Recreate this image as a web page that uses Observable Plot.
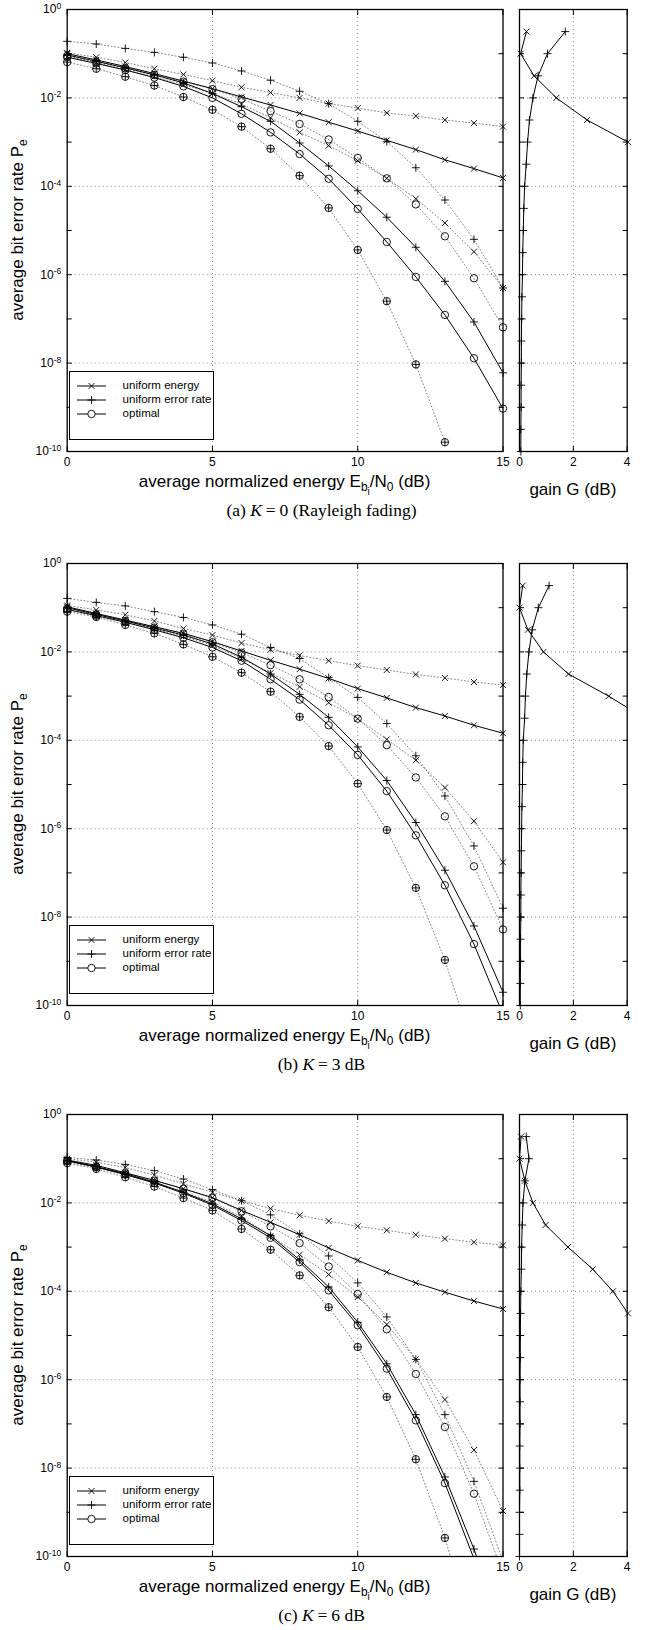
<!DOCTYPE html>
<html><head><meta charset="utf-8">
<script src="https://cdn.jsdelivr.net/npm/d3@7"></script>
<script src="https://cdn.jsdelivr.net/npm/@observablehq/plot@0.6"></script>
<style>
body{margin:0;background:#fff;}
#fig{position:relative;width:648px;height:1630px;font-family:"Liberation Sans",Arial,Helvetica,sans-serif;color:#000;overflow:hidden;}
.title{position:absolute;font-size:17px;line-height:19px;white-space:nowrap;}
.title sub{font-size:12px;vertical-align:-4px;line-height:0;}
.title sub sub{font-size:10px;vertical-align:-4px;}
.ylab{position:absolute;font-size:17px;line-height:19px;white-space:nowrap;transform:translate(-50%,-50%) rotate(-90deg);}
.ylab sub{font-size:12px;vertical-align:-4px;line-height:0;}
.cap{position:absolute;font-family:"Liberation Serif","Times New Roman",serif;font-size:17.5px;line-height:22px;white-space:nowrap;transform:translateX(-50%);}
.cap .eq{padding:0 0.22em;}
.legend{position:absolute;border:1.2px solid #000;background:#fff;box-sizing:border-box;font-size:11.5px;}
.legend .row{position:absolute;left:0;height:14px;line-height:14px;white-space:nowrap;}
</style></head><body><div id="fig"></div>
<script>
// ---------- data (log10 of average bit error rate) ----------
const snrDb = [0,1,2,3,4,5,6,7,8,9,10,11,12,13,14,15];

// panel (a) K = 0
const aUE     = [-1.0,-1.14,-1.29,-1.45,-1.62,-1.79,-1.98,-2.16,-2.35,-2.55,-2.75,-2.96,-3.17,-3.4,-3.6,-3.81];
const aUER    = [-1.03,-1.17,-1.32,-1.48,-1.66,-1.9,-2.2,-2.53,-3.02,-3.54,-4.1,-4.7,-5.38,-6.15,-7.07,-8.22];
const aOPT    = [-1.08,-1.22,-1.37,-1.54,-1.74,-2.0,-2.36,-2.78,-3.27,-3.83,-4.51,-5.26,-6.05,-6.91,-7.89,-9.03];
const aUERhi  = [-0.72,-0.78,-0.88,-0.97,-1.08,-1.21,-1.39,-1.6,-1.85,-2.13,-2.53,-2.99,-3.58,-4.31,-5.2,-6.3];
const aUEhi   = [-0.98,-1.08,-1.2,-1.34,-1.47,-1.61,-1.76,-1.88,-2.0,-2.13,-2.23,-2.34,-2.41,-2.5,-2.57,-2.65];
const aOPThi  = [-1.05,-1.18,-1.33,-1.48,-1.63,-1.8,-2.02,-2.3,-2.59,-2.94,-3.36,-3.82,-4.41,-5.13,-6.08,-7.19];
const aUElo   = [-1.07,-1.2,-1.36,-1.52,-1.7,-1.9,-2.14,-2.45,-2.78,-3.08,-3.42,-3.82,-4.28,-4.83,-5.48,-6.3];
const aLo     = [-1.19,-1.34,-1.52,-1.72,-1.98,-2.27,-2.65,-3.15,-3.76,-4.49,-5.44,-6.6,-8.03,-9.79];

// panel (b) K = 3 dB
const bUE     = [-0.98,-1.13,-1.28,-1.43,-1.58,-1.77,-1.98,-2.19,-2.39,-2.6,-2.83,-3.04,-3.26,-3.45,-3.66,-3.84];
const bUER    = [-1.0,-1.15,-1.3,-1.46,-1.62,-1.82,-2.12,-2.5,-2.96,-3.48,-4.15,-4.91,-5.86,-6.94,-8.2,-9.7];
const bOPT    = [-1.04,-1.18,-1.33,-1.5,-1.68,-1.9,-2.2,-2.62,-3.08,-3.66,-4.33,-5.15,-6.15,-7.28,-8.61,-10.2];
const bUERhi  = [-0.79,-0.88,-0.96,-1.09,-1.22,-1.39,-1.6,-1.9,-2.15,-2.58,-3.03,-3.62,-4.35,-5.26,-6.39,-7.8];
const bUEhi   = [-0.95,-1.05,-1.16,-1.3,-1.47,-1.62,-1.8,-1.95,-2.08,-2.2,-2.31,-2.41,-2.51,-2.59,-2.68,-2.75];
const bOPThi  = [-1.02,-1.15,-1.3,-1.45,-1.6,-1.78,-2.02,-2.3,-2.62,-3.02,-3.51,-4.11,-4.84,-5.72,-6.85,-8.28];
const bUElo   = [-1.05,-1.18,-1.33,-1.48,-1.65,-1.85,-2.15,-2.48,-2.79,-3.15,-3.51,-3.98,-4.45,-5.07,-5.83,-6.76];
const bLo     = [-1.09,-1.21,-1.39,-1.58,-1.83,-2.11,-2.47,-2.9,-3.47,-4.13,-4.98,-6.03,-7.34,-8.97,-11.0];

// panel (c) K = 6 dB
const cUE     = [-1.03,-1.15,-1.32,-1.49,-1.68,-1.88,-2.17,-2.44,-2.72,-3.02,-3.3,-3.57,-3.81,-4.02,-4.22,-4.4];
const cUER    = [-1.04,-1.18,-1.34,-1.53,-1.76,-2.02,-2.36,-2.74,-3.29,-3.9,-4.7,-5.64,-6.79,-8.2,-9.83,-11.7];
const cOPT    = [-1.05,-1.19,-1.36,-1.55,-1.78,-2.05,-2.4,-2.79,-3.34,-3.98,-4.77,-5.75,-6.92,-8.34,-10.05,-12.0];
const cUERhi  = [-0.97,-1.03,-1.13,-1.27,-1.46,-1.7,-1.95,-2.27,-2.7,-3.2,-3.81,-4.58,-5.54,-6.79,-8.3,-10.1];
const cUEhi   = [-1.0,-1.08,-1.2,-1.37,-1.57,-1.76,-1.95,-2.13,-2.28,-2.41,-2.53,-2.62,-2.72,-2.81,-2.89,-2.96];
const cOPThi  = [-1.05,-1.18,-1.33,-1.5,-1.68,-1.89,-2.19,-2.53,-2.91,-3.44,-4.06,-4.86,-5.87,-7.07,-8.58,-10.4];
const cUElo   = [-1.07,-1.2,-1.36,-1.55,-1.75,-1.98,-2.32,-2.75,-3.17,-3.62,-4.13,-4.75,-5.54,-6.45,-7.59,-8.97];
const cLo     = [-1.1,-1.23,-1.42,-1.63,-1.89,-2.17,-2.59,-3.06,-3.64,-4.36,-5.26,-6.39,-7.8,-9.58,-11.8];

// gain panels: log10 Pe levels and gain G (dB)
const gainLevels = [-0.5,-1,-1.5,-2,-2.5,-3,-3.5,-4,-4.5,-5,-5.5,-6,-6.5,-7,-7.5,-8,-8.5,-9,-9.5,-10];
const aGainUE  = [0.26,0.04,0.54,1.37,2.51,4.03];
const aGainUER = [1.7,1.04,0.69,0.5,0.37,0.3,0.25,0.19,0.16,0.14,0.12,0.11,0.09,0.08,0.07,0.07,0.06,0.06,0.05,0.05];
const bGainUE  = [0.12,0.0,0.31,0.89,1.82,3.31,4.64];
const bGainUER = [1.1,0.7,0.47,0.35,0.27,0.22,0.19,0.14,0.12,0.11,0.09,0.08,0.07,0.06,0.05,0.05,0.04,0.04,0.03,0.03];
const cGainUE  = [0.06,0.0,0.2,0.5,0.97,1.8,2.72,3.47,4.03];
const cGainUER = [0.25,0.35,0.2,0.13,0.1,0.08,0.07,0.05,0.04,0.03,0.03,0.02,0.02,0.02,0.01,0.01,0.01,0.0,0.0,0.0];

// ticks and labels
const decadeTicks = [1,1e-1,1e-2,1e-3,1e-4,1e-5,1e-6,1e-7,1e-8,1e-9,1e-10];
const labeledDecades = [1,1e-2,1e-4,1e-6,1e-8,1e-10];
const gridDecades = [1e-2,1e-4,1e-6,1e-8];
const mainTicksX = [0,5,10,15];
const mainGridX = [5,10];
const gainTicksX = [0,2,4];
const gainGridX = [2];
const legendLabels = ["uniform energy","uniform error rate","optimal"];
const xTitle = 'average normalized energy E<sub>b<sub>i</sub></sub>/N<sub>0</sub> (dB)';
const yTitle = 'average bit error rate P<sub>e</sub>';
const gainTitle = 'gain G (dB)';
const captions = [
  ['(a) ', 'K', '=', '0 (Rayleigh fading)'],
  ['(b) ', 'K', '=', '3 dB'],
  ['(c) ', 'K', '=', '6 dB']
];

// ---------- drawing ----------
const FONT = '"Liberation Sans", Arial, Helvetica, sans-serif';
const fig = document.getElementById("fig");
const symPlus = {draw(ctx, size){const r=Math.sqrt(size/Math.PI);ctx.moveTo(-r,0);ctx.lineTo(r,0);ctx.moveTo(0,-r);ctx.lineTo(0,r);}};
const symTimes = {draw(ctx, size){const r=Math.sqrt(size/Math.PI);ctx.moveTo(-r,-r);ctx.lineTo(r,r);ctx.moveTo(-r,r);ctx.lineTo(r,-r);}};
const SYM = {plus: symPlus, times: symTimes, circle: "circle"};
const RAD = {plus: 4, times: 3, circle: 3.7};

const FRAME_W = 435.8, FRAME_H = 442, GAIN_W = 107.7;
const MAIN_LEFT = 66.7, GAIN_LEFT = 519;
const MT = 12, MB = 26;
const panelTops = [9, 563, 1114];

function pts(xs, exps){ return exps.map((e,i)=>({x: xs[i], y: Math.pow(10, e)})); }

function seriesMarks(data, symbols, dotted, xmax){
  const inside = data.filter(p => p.y >= 0.99e-10 && p.y <= 1.01 && p.x <= xmax*1.013);
  const lineOpts = dotted
    ? {x:"x", y:"y", stroke:"#000", strokeOpacity:0.55, strokeWidth:0.9, strokeDasharray:"1,2.4", clip:true}
    : {x:"x", y:"y", stroke:"#000", strokeWidth:1, clip:true};
  const m = [Plot.line(data, lineOpts)];
  for (const s of symbols) m.push(Plot.dot(inside, {x:"x", y:"y", symbol: SYM[s], r: RAD[s], stroke:"#000", fill:"none", strokeWidth:0.9}));
  return m;
}

function gridMarks(gridX){
  const grid = {stroke:"#000", strokeOpacity:0.6, strokeWidth:0.8, strokeDasharray:"1,3"};
  return [Plot.gridX(gridX, grid), Plot.gridY(gridDecades, grid)];
}
function axisMarks(ticksX, withYLabels){
  const m = [
    Plot.axisY(decadeTicks, {anchor:"left", tickSize:5, dx:5, tickFormat:()=>"", label:null, stroke:"#000"}),
    Plot.axisY(decadeTicks, {anchor:"right", tickSize:5, dx:-5, tickFormat:()=>"", label:null, stroke:"#000"}),
    Plot.axisX(ticksX, {anchor:"bottom", tickSize:5, dy:-5, tickFormat:()=>"", label:null, stroke:"#000"}),
    Plot.axisX(ticksX, {anchor:"top", tickSize:5, dy:5, tickFormat:()=>"", label:null, stroke:"#000"}),
    Plot.axisX(ticksX, {anchor:"bottom", tickSize:0, tickPadding:6, label:null, fill:"#000"}),
    Plot.frame({stroke:"#000", strokeWidth:1.3})
  ];
  if (withYLabels) m.push(Plot.axisY(labeledDecades, {anchor:"left", tickSize:0, tickPadding:6, label:null, fill:"#000",
    tickFormat: d => "10^" + Math.round(Math.log10(d))}));
  return m;
}

function supify(svg){
  svg.querySelectorAll("text").forEach(t => {
    const m = /^10\^(-?\d+)$/.exec(t.textContent.trim());
    if (!m) return;
    t.textContent = "";
    const a = document.createElementNS("http://www.w3.org/2000/svg","tspan");
    a.textContent = "10";
    const b = document.createElementNS("http://www.w3.org/2000/svg","tspan");
    b.setAttribute("dy","-0.5em");
    b.setAttribute("font-size","8.5px");
    b.textContent = m[1];
    t.appendChild(a); t.appendChild(b);
  });
}

function place(el, left, top){ el.style.position="absolute"; el.style.left=left+"px"; el.style.top=top+"px"; fig.appendChild(el); }

function legendSample(sym){
  const svg = d3.create("svg").attr("width",44).attr("height",14);
  svg.append("line").attr("x1",6).attr("x2",35).attr("y1",7).attr("y2",7).attr("stroke","#000").attr("stroke-width",1);
  const size = Math.PI*RAD[sym]*RAD[sym];
  const type = sym==="circle" ? d3.symbolCircle : SYM[sym];
  svg.append("path").attr("transform","translate(20.5,7)").attr("d", d3.symbol(type, size)())
    .attr("fill", sym==="circle" ? "#fff" : "none").attr("stroke","#000").attr("stroke-width",0.9);
  return svg.node();
}

function drawPanel(k, P){
  const top = panelTops[k];
  const series = [
    [P.uerHi, ["plus"], true],
    [P.ueHi, ["times"], true],
    [P.optHi, ["circle"], true],
    [P.ueLo, ["times"], true],
    [P.lo, ["plus","circle"], true],
    [P.ue, ["times"], false],
    [P.uer, ["plus"], false],
    [P.opt, ["circle"], false]
  ];
  const marks = [...gridMarks(mainGridX)];
  for (const [e, sy, dotted] of series) marks.push(...seriesMarks(pts(snrDb, e), sy, dotted, 15));
  marks.push(...axisMarks(mainTicksX, true));
  const main = Plot.plot({
    width: MAIN_LEFT + FRAME_W + 6, height: MT + FRAME_H + MB,
    marginLeft: MAIN_LEFT, marginRight: 6, marginTop: MT, marginBottom: MB,
    x: {domain:[0,15]}, y: {type:"log", domain:[1e-10,1]},
    style: {background:"transparent", fontFamily: FONT, fontSize:"12px", color:"#000", overflow:"visible"},
    marks
  });
  supify(main);
  place(main, 0, top - MT);

  // gain panel
  const gMarks = [...gridMarks(gainGridX)];
  gMarks.push(...seriesMarks(pts(P.gainUE, gainLevels.slice(0, P.gainUE.length)), ["times"], false, 4));
  gMarks.push(...seriesMarks(pts(P.gainUER, gainLevels.slice(0, P.gainUER.length)), ["plus"], false, 4));
  gMarks.push(...axisMarks(gainTicksX, false));
  const gainML = 14;
  const gain = Plot.plot({
    width: 143, height: MT + FRAME_H + MB,
    marginLeft: gainML, marginRight: 143 - gainML - GAIN_W, marginTop: MT, marginBottom: MB,
    x: {domain:[0,4]}, y: {type:"log", domain:[1e-10,1]},
    style: {background:"transparent", fontFamily: FONT, fontSize:"12px", color:"#000", overflow:"visible"},
    marks: gMarks
  });
  place(gain, GAIN_LEFT - gainML, top - MT);

  // titles
  const yl = document.createElement("div"); yl.className="ylab"; yl.innerHTML = yTitle;
  yl.style.left = "17px"; yl.style.top = (top + 221) + "px"; fig.appendChild(yl);
  const xl = document.createElement("div"); xl.className="title"; xl.innerHTML = xTitle;
  xl.style.left = (MAIN_LEFT + FRAME_W/2) + "px"; xl.style.top = (top + 463) + "px"; xl.style.transform="translateX(-50%)";
  fig.appendChild(xl);
  const gl = document.createElement("div"); gl.className="title"; gl.textContent = gainTitle;
  gl.style.left = (GAIN_LEFT + GAIN_W/2) + "px"; gl.style.top = (top + 470.5) + "px"; gl.style.transform="translateX(-50%)";
  fig.appendChild(gl);

  // caption
  const c = captions[k];
  const cap = document.createElement("div"); cap.className="cap";
  cap.innerHTML = `${c[0]}<i>${c[1]}</i><span class="eq">${c[2]}</span>${c[3]}`;
  cap.style.left = "321.5px"; cap.style.top = (top + 490) + "px";
  fig.appendChild(cap);

  // legend
  const lg = document.createElement("div"); lg.className="legend";
  lg.style.left = "68.6px"; lg.style.top = (top + 362) + "px"; lg.style.width = "145.5px"; lg.style.height = "69px";
  const syms = ["times","plus","circle"];
  const rowY = [14.5, 28.5, 42.5];
  legendLabels.forEach((lab, i) => {
    const s = legendSample(syms[i]);
    s.style.position="absolute"; s.style.left="1px"; s.style.top=(rowY[i]-7-1)+"px";
    lg.appendChild(s);
    const t = document.createElement("div"); t.className="row"; t.textContent = lab;
    t.style.left = "53px"; t.style.top = (rowY[i]-7-1.5)+"px";
    lg.appendChild(t);
  });
  fig.appendChild(lg);
}

drawPanel(0, {ue:aUE, uer:aUER, opt:aOPT, uerHi:aUERhi, ueHi:aUEhi, optHi:aOPThi, ueLo:aUElo, lo:aLo, gainUE:aGainUE, gainUER:aGainUER});
drawPanel(1, {ue:bUE, uer:bUER, opt:bOPT, uerHi:bUERhi, ueHi:bUEhi, optHi:bOPThi, ueLo:bUElo, lo:bLo, gainUE:bGainUE, gainUER:bGainUER});
drawPanel(2, {ue:cUE, uer:cUER, opt:cOPT, uerHi:cUERhi, ueHi:cUEhi, optHi:cOPThi, ueLo:cUElo, lo:cLo, gainUE:cGainUE, gainUER:cGainUER});
</script></body></html>
